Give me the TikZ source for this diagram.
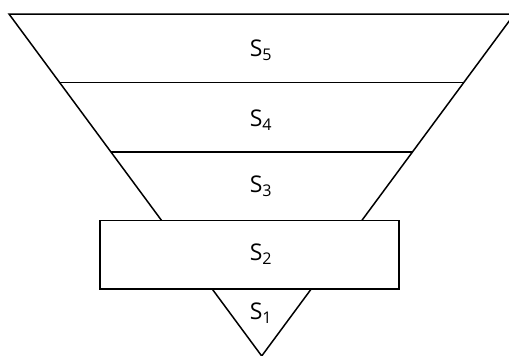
\documentclass[tikz,border=0pt]{standalone}
\usepackage{fontspec}
\setmainfont{Open Sans}
\usetikzlibrary{positioning}
\usetikzlibrary{calc}
\tikzstyle{layer} = [line width=1.5pt, draw=black]
\tikzstyle{label} = [font=\fontsize{23}{26}\selectfont, inner sep=0pt]
\tikzstyle{band} = [rectangle, minimum width=299pt, minimum height=68.4pt, draw=black, line width=1.5pt, fill=white]

\begin{document}
\begin{tikzpicture}[x=1pt, y=-1pt]

    \useasboundingbox (0,0) rectangle (509,356);
    \clip (0,0) rectangle (509,356);

    \coordinate (topleft) at (9,14);
    \coordinate (topright) at (514.4,14);
    \coordinate (apex) at (261.7,356);

    \draw [layer] (topleft) -- (topright) -- (apex) -- cycle;

    \draw [layer] ($(topleft)!0.2!(apex)$) -- ($(topright)!0.2!(apex)$);
    \draw [layer] ($(topleft)!0.404!(apex)$) -- ($(topright)!0.404!(apex)$);

    \node (s2box) [band] at (249.5,254.8) {};

    \node (s5) [label] at (261,50) {S\textsubscript{5}};
    \node (s4) [label] at (261,120) {S\textsubscript{4}};
    \node (s3) [label] at (261,186) {S\textsubscript{3}};
    \node (s2) [label] at (261,254) {S\textsubscript{2}};
    \node (s1) [label] at (261,313) {S\textsubscript{1}};

\end{tikzpicture}
\end{document}
